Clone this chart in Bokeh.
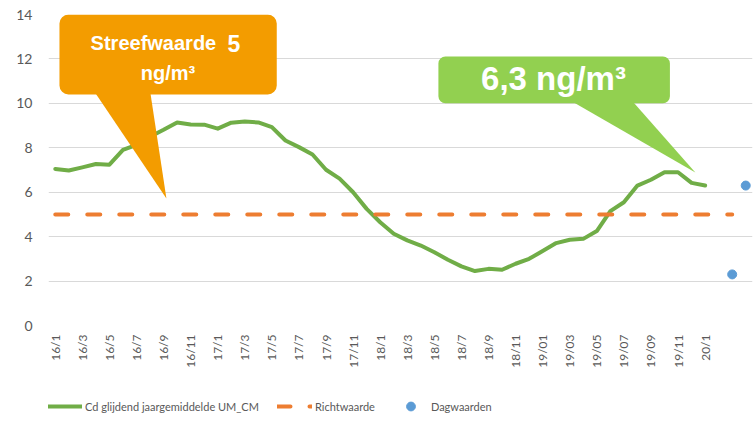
import math
from bokeh.plotting import figure
from bokeh.layouts import column
from bokeh.models import (ColumnDataSource, FixedTicker, Legend, LegendItem,
                          BoxAnnotation, Range1d, Label)
from bokeh.embed import file_html
from bokeh.resources import INLINE

# ---- data ----
tick_labels = ["16/1", "16/3", "16/5", "16/7", "16/9", "16/11",
               "17/1", "17/3", "17/5", "17/7", "17/9", "17/11",
               "18/1", "18/3", "18/5", "18/7", "18/9", "18/11",
               "19/01", "19/03", "19/05", "19/07", "19/09", "19/11",
               "20/1"]
glijdend = [7.05, 6.98, 7.12, 7.27, 7.24, 7.91, 8.13, 8.50, 8.81, 9.14,
            9.05, 9.04, 8.86, 9.13, 9.18, 9.14, 8.93, 8.33, 8.03, 7.70,
            7.01, 6.61, 6.00, 5.25, 4.65, 4.13, 3.83, 3.60, 3.30, 2.96,
            2.66, 2.45, 2.55, 2.51, 2.78, 3.00, 3.35, 3.71, 3.86, 3.90,
            4.25, 5.15, 5.55, 6.30, 6.56, 6.90, 6.90, 6.42, 6.30]
richtwaarde_value = 5
richtwaarde_len = 51
dag_x = [50, 51]
dag_y = [2.3, 6.3]
n_categories = 52

GREEN = "#70AD47"
ORANGE = "#ED7D31"
BLUE = "#5B9BD5"
GRID = "#D9D9D9"
LABEL = "#595959"

src_line = ColumnDataSource(dict(x=list(range(len(glijdend))), y=glijdend))
src_richt = ColumnDataSource(dict(x=list(range(richtwaarde_len)),
                                  y=[richtwaarde_value] * richtwaarde_len))
src_dag = ColumnDataSource(dict(x=dag_x, y=dag_y))

p = figure(width=754, height=385, output_backend="svg", toolbar_location=None,
           x_range=Range1d(-0.5, n_categories - 0.5), y_range=Range1d(0, 14),
           min_border_left=48, min_border_right=2, min_border_top=14,
           min_border_bottom=60)
p.outline_line_color = None
p.background_fill_color = "white"
p.border_fill_color = "white"

# axes
p.xaxis.ticker = FixedTicker(ticks=[2 * i for i in range(len(tick_labels))])
p.xaxis.major_label_overrides = {2 * i: t for i, t in enumerate(tick_labels)}
p.xaxis.major_label_orientation = math.pi / 2
p.xaxis.major_label_text_font = "Lato"
p.xaxis.major_label_text_font_size = "12px"
p.xaxis.major_label_text_color = LABEL
p.xaxis.major_label_standoff = 9
p.yaxis.ticker = FixedTicker(ticks=[0, 2, 4, 6, 8, 10, 12, 14])
p.yaxis.major_label_text_font = "Lato"
p.yaxis.major_label_text_font_size = "14px"
p.yaxis.major_label_text_color = LABEL
p.yaxis.major_label_standoff = 16
for ax in (p.xaxis, p.yaxis):
    ax.axis_line_color = None
    ax.major_tick_line_color = None
    ax.minor_tick_line_color = None
    ax.major_tick_out = 0
    ax.major_tick_in = 0
p.xgrid.grid_line_color = None
p.ygrid.grid_line_color = GRID
p.ygrid.grid_line_width = 1

def draw_series(fig):
    a = fig.line("x", "y", source=src_line, line_color=GREEN, line_width=4,
                 line_join="round", line_cap="round")
    b = fig.line("x", "y", source=src_richt, line_color=ORANGE, line_width=4,
                 line_dash="13 19", line_cap="round")
    c = fig.scatter("x", "y", source=src_dag, size=9, fill_color=BLUE,
                    line_color=BLUE)
    return a, b, c

draw_series(p)

# callouts (annotation geometry in data units)
CALL_ORANGE = "#F39C00"
CALL_GREEN = "#92D050"
p.add_layout(BoxAnnotation(left=0.31, right=16.36, bottom=10.40, top=14.0,
                           fill_color=CALL_ORANGE, fill_alpha=1,
                           line_color=None, border_radius=9, level="overlay"))
p.patch([2.97, 7.03, 8.21], [10.45, 10.45, 5.72], fill_color=CALL_ORANGE,
        line_color=None, level="overlay")
p.add_layout(BoxAnnotation(left=28.3, right=45.4, bottom=10.0, top=12.11,
                           fill_color=CALL_GREEN, fill_alpha=1,
                           line_color=None, border_radius=7, level="overlay"))
p.patch([38.27, 42.7, 47.28], [10.05, 10.05, 6.89], fill_color=CALL_GREEN,
        line_color=None, level="overlay")

def add_label(x, y, txt, size, align):
    p.add_layout(Label(x=x, y=y, text=txt, text_font="Liberation Sans",
                       text_font_style="bold", text_font_size=size,
                       text_color="white", text_baseline="alphabetic",
                       text_align=align, level="overlay"))

add_label(2.61, 12.70, "Streefwaarde", "20px", "left")
add_label(12.73, 12.70, "5", "23px", "left")
add_label(8.32, 11.35, "ng/m³", "20px", "center")
add_label(36.80, 11.12, "6,3 ng/m³", "33px", "center")

# legend strip (its own figure; series drawn off-range so only the legend shows)
lg = figure(width=754, height=46, output_backend="svg", toolbar_location=None,
            x_range=Range1d(0, 1), y_range=Range1d(100, 101),
            min_border_left=0, min_border_right=0, min_border_top=0,
            min_border_bottom=0, x_axis_location=None, y_axis_location=None)
lg.outline_line_color = None
lg.xgrid.visible = False
lg.ygrid.visible = False
la, lb, lc = draw_series(lg)
legend = Legend(items=[
    LegendItem(label="Cd glijdend jaargemiddelde UM_CM", renderers=[la]),
    LegendItem(label="Richtwaarde", renderers=[lb]),
    LegendItem(label="Dagwaarden", renderers=[lc]),
], orientation="horizontal", location=(-1, 14), glyph_width=35,
    glyph_height=22, label_height=22, label_standoff=3, spacing=18,
    padding=0, margin=0,
    border_line_color=None, background_fill_alpha=0,
    label_text_font="Lato", label_text_font_size="11px",
    label_text_color=LABEL)
lg.add_layout(legend, "center")

layout = column(p, lg, spacing=0)
open("out.html", "w").write(file_html(layout, INLINE))
